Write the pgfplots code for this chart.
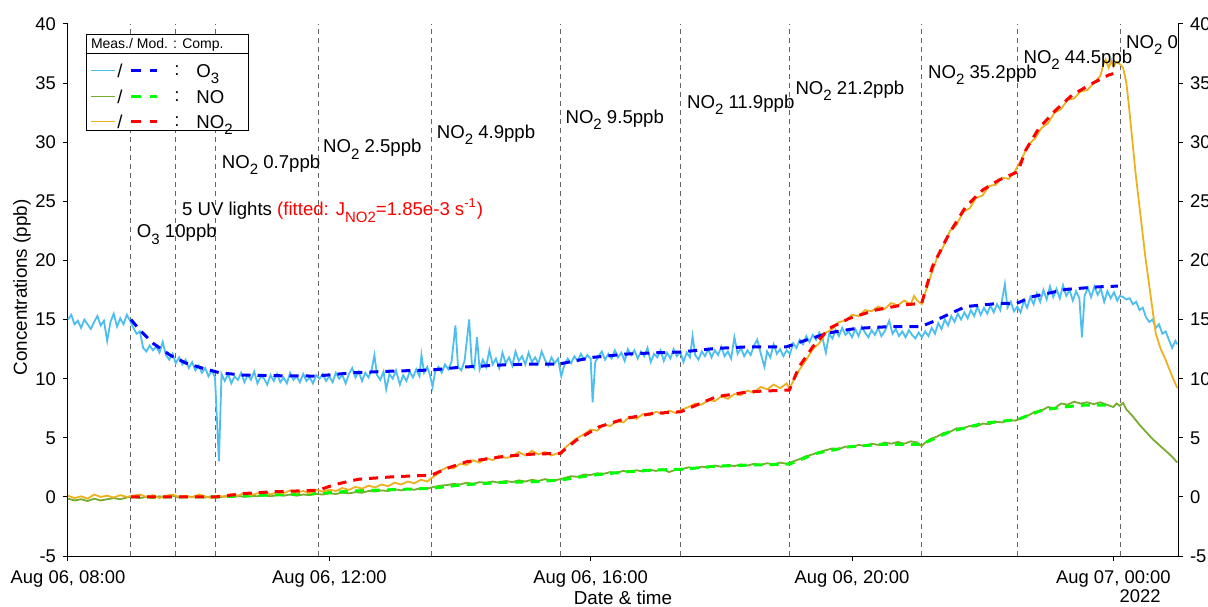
\documentclass[border=0pt]{standalone}
\usepackage{fontspec}
\setmainfont{Liberation Sans}
\usepackage{pgfplots}
\pgfplotsset{compat=1.18}
\definecolor{o3m}{RGB}{77,190,238}
\definecolor{nom}{RGB}{119,172,48}
\definecolor{no2m}{RGB}{237,177,32}
\definecolor{vl}{RGB}{100,100,100}
\newcommand{\sub}[1]{\raisebox{-3.2pt}{\fontsize{7.5}{8}\selectfont #1}}
\newcommand{\ann}{\fontsize{9.3}{11}\selectfont}
\begin{document}
\begin{tikzpicture}
\begin{axis}[name=ax, scale only axis, width=555pt, height=266pt,
  xmin=0, xmax=16.99, ymin=-5, ymax=40,
  axis x line*=bottom, axis y line*=left,
  axis line style={-, line width=0.5pt},
  tick align=outside, major tick length=2.5pt,
  tick style={black, line width=0.5pt},
  xtick={0,4,8,12,16},
  xticklabels={{Aug 06, 08:00},{Aug 06, 12:00},{Aug 06, 16:00},{Aug 06, 20:00},{Aug 07, 00:00}},
  xticklabel style={yshift=-1.5pt},
  ytick={-5,0,5,10,15,20,25,30,35,40},
  tick label style={font=\fontsize{9.2}{11}\selectfont},
  /pgf/number format/assume math mode=true,
  xlabel={Date \& time}, ylabel={Concentrations (ppb)},
  label style={font=\fontsize{9.4}{11}\selectfont},
  xlabel style={at={(axis description cs:0.5,-0.078)}, anchor=center},
  ylabel style={at={(axis description cs:-0.0414,0.505)}, anchor=center},
  clip=false,
  vline/.style={vl, line width=0.5pt, dash pattern=on 2.5pt off 2pt},
]
\pgfplotsinvokeforeach{0.964,1.653,2.265,3.831,5.567,7.531,9.379,11.041,13.066,14.537,16.104}{
  \addplot[vline] coordinates {(#1,-5) (#1,40)};
}
% O3 measured
\addplot[o3m, line width=0.9pt] coordinates {
(0.00,15.0)(0.05,15.4)(0.10,14.6)(0.15,14.9)(0.20,14.3)(0.25,15.0)(0.30,14.6)(0.35,14.2)(0.40,14.8)(0.45,15.3)
(0.50,14.5)(0.55,14.9)(0.60,13.2)(0.65,14.8)(0.70,15.5)(0.75,14.4)(0.80,15.1)(0.85,14.6)(0.90,15.4)(0.95,14.9)
(1.00,14.3)(1.05,13.8)(1.10,14.0)(1.15,12.6)(1.20,12.3)(1.25,12.8)(1.30,12.4)(1.35,12.7)(1.40,12.2)(1.45,13.1)
(1.50,12.0)(1.55,11.6)(1.60,12.1)(1.65,11.3)(1.70,11.8)(1.75,11.2)(1.80,11.6)(1.85,10.9)(1.90,11.4)(1.95,10.7)
(2.00,11.1)(2.05,10.5)(2.10,10.9)(2.15,10.2)(2.20,10.7)(2.25,10.1)(2.31,3.0)(2.35,10.4)
(2.40,9.8)(2.45,10.4)(2.50,9.6)(2.55,10.2)(2.60,9.9)(2.65,10.5)(2.70,9.7)(2.75,10.3)(2.80,9.9)(2.85,10.6)
(2.90,9.6)(2.95,10.2)(3.00,10.0)(3.05,9.5)(3.10,10.3)(3.15,9.8)(3.20,10.4)(3.25,9.7)(3.30,10.1)(3.35,9.6)
(3.40,10.5)(3.45,9.9)(3.50,10.2)(3.55,9.7)(3.60,10.4)(3.65,9.8)(3.70,10.1)(3.75,9.6)(3.80,10.3)(3.85,10.0)
(3.90,10.4)(3.95,9.8)(4.00,10.2)(4.05,9.7)(4.10,10.5)(4.15,10.0)(4.20,10.3)(4.25,9.6)(4.30,10.4)(4.35,10.9)
(4.40,10.1)(4.45,10.6)(4.50,9.8)(4.55,10.5)(4.60,10.1)(4.65,10.8)(4.69,12.0)(4.73,10.3)(4.78,9.9)(4.83,10.6)
(4.87,9.1)(4.92,10.4)(4.97,10.0)(5.02,10.7)(5.08,9.5)(5.13,10.3)(5.18,9.8)(5.23,10.6)(5.28,10.1)(5.33,10.8)
(5.38,10.2)(5.41,12.0)(5.45,10.5)(5.50,11.0)(5.54,10.3)(5.58,9.3)(5.62,10.6)(5.67,11.0)(5.72,10.5)(5.77,11.2)
(5.82,10.8)(5.87,11.4)(5.93,14.5)(5.97,11.0)(6.02,10.7)(6.07,11.5)(6.14,15.0)(6.18,11.3)(6.22,10.9)(6.26,13.5)
(6.30,10.8)(6.35,11.6)(6.40,11.0)(6.45,12.4)(6.50,11.2)(6.55,11.7)(6.60,10.9)(6.65,12.2)(6.70,11.3)(6.75,11.8)
(6.80,11.1)(6.85,12.3)(6.90,11.5)(6.95,11.9)(7.00,11.2)(7.05,12.2)(7.10,11.4)(7.15,11.8)(7.20,11.3)(7.25,12.3)
(7.30,11.6)(7.35,11.1)(7.40,11.8)(7.45,11.3)(7.50,11.7)(7.55,10.2)(7.60,11.2)(7.65,11.7)(7.70,11.3)(7.75,11.9)
(7.80,11.5)(7.85,12.1)(7.90,11.6)(7.95,12.0)(8.00,11.7)(8.03,8.0)(8.07,11.4)(8.12,11.9)(8.17,12.3)(8.22,11.6)
(8.27,12.1)(8.32,11.7)(8.37,12.4)(8.42,11.8)(8.47,12.2)(8.52,11.5)(8.57,12.5)(8.62,12.0)(8.67,12.4)(8.72,11.7)
(8.77,12.3)(8.82,11.9)(8.87,12.6)(8.92,11.4)(8.97,12.1)(9.02,11.8)(9.07,12.4)(9.12,11.5)(9.17,12.2)(9.22,11.7)
(9.27,12.5)(9.32,11.9)(9.37,12.3)(9.42,11.4)(9.47,12.2)(9.52,11.8)(9.56,13.6)(9.60,12.0)(9.65,11.6)(9.70,12.3)
(9.75,11.9)(9.80,12.5)(9.85,11.8)(9.90,12.4)(9.95,12.0)(10.00,12.7)(10.05,11.9)(10.10,12.3)(10.15,11.7)(10.20,13.5)
(10.25,12.1)(10.30,12.6)(10.35,11.9)(10.40,12.4)(10.45,12.0)(10.50,12.8)(10.55,13.3)(10.60,12.2)(10.66,11.0)(10.70,12.3)
(10.75,11.8)(10.80,12.9)(10.85,12.1)(10.90,12.5)(10.95,11.9)(11.00,12.4)(11.05,12.1)(11.10,13.0)(11.15,12.6)(11.20,13.3)
(11.25,12.9)(11.30,13.6)(11.35,13.1)(11.40,13.7)(11.45,13.3)(11.50,13.9)(11.55,13.4)(11.60,12.2)(11.65,13.8)(11.70,13.4)
(11.75,14.1)(11.80,13.6)(11.85,14.3)(11.90,13.7)(11.95,14.0)(12.00,13.5)(12.05,14.2)(12.10,13.6)(12.15,14.4)(12.20,13.9)
(12.25,13.5)(12.30,14.1)(12.35,13.7)(12.40,14.3)(12.45,13.6)(12.50,14.0)(12.57,14.9)(12.62,13.8)(12.67,14.2)(12.72,13.6)
(12.77,14.0)(12.82,13.5)(12.87,14.1)(12.92,13.7)(12.97,13.4)(13.02,13.9)(13.07,13.5)(13.12,14.0)(13.17,13.6)(13.22,14.3)
(13.27,13.8)(13.32,14.7)(13.37,14.2)(13.42,15.0)(13.47,14.5)(13.52,15.3)(13.57,14.8)(13.62,15.5)(13.67,15.0)(13.72,15.6)
(13.77,15.1)(13.82,15.8)(13.87,15.3)(13.92,16.1)(13.97,15.4)(14.02,16.0)(14.07,15.5)(14.12,16.2)(14.17,15.6)(14.22,16.3)
(14.27,15.8)(14.34,18.0)(14.38,16.0)(14.43,16.5)(14.48,15.7)(14.53,16.1)(14.58,15.6)(14.63,16.6)(14.68,16.0)(14.73,16.9)
(14.78,16.3)(14.83,17.2)(14.88,16.5)(14.93,17.5)(14.98,16.7)(15.03,17.8)(15.08,16.9)(15.13,17.6)(15.18,16.8)(15.23,17.9)
(15.28,17.0)(15.33,17.5)(15.38,16.6)(15.43,17.4)(15.48,16.8)(15.52,13.5)(15.56,17.0)(15.61,17.7)(15.66,16.9)(15.71,17.8)
(15.76,17.1)(15.81,17.6)(15.86,16.5)(15.91,17.4)(15.96,16.8)(16.01,17.3)(16.06,16.6)(16.10,17.0)(16.15,16.9)(16.20,16.7)
(16.25,16.8)(16.30,16.3)(16.35,16.5)(16.40,15.8)(16.45,16.0)(16.50,15.2)(16.55,14.8)(16.60,15.0)(16.65,14.3)(16.70,14.6)
(16.75,13.8)(16.80,14.0)(16.85,13.3)(16.90,12.6)(16.95,13.2)(16.98,12.9)
};
% O3 model
\addplot[blue, line width=1.5pt, dash pattern=on 4.5pt off 3.5pt] coordinates {
(0.964,15.0)(1.1,14.1)(1.3,13.0)(1.56,12.0)(1.81,11.3)(2.07,10.87)(2.32,10.5)(2.68,10.3)(3.19,10.25)(3.8,10.22)
(4.36,10.5)(4.97,10.64)(5.56,10.73)(5.99,10.96)(6.6,11.15)(7.11,11.24)(7.52,11.24)(8.03,11.8)(8.54,12.08)(9.05,12.2)
(9.37,12.25)(9.92,12.56)(10.43,12.7)(11.0,12.7)(11.3,13.27)(11.65,13.88)(12.06,14.25)(12.57,14.4)(13.05,14.4)
(13.23,14.8)(13.49,15.47)(13.74,16.1)(14.25,16.37)(14.52,16.37)(14.76,16.93)(15.27,17.55)(15.78,17.77)(16.07,17.83)
};
% NO measured
\addplot[nom, line width=0.9pt] coordinates {
(0.0,-0.15)(0.1,-0.3)(0.2,-0.2)(0.3,-0.35)(0.4,-0.15)(0.5,-0.3)(0.6,-0.2)(0.7,-0.1)(0.8,-0.2)(0.9,-0.05)
(1.0,0.05)(1.1,-0.1)(1.2,0.0)(1.3,-0.1)(1.4,0.05)(1.5,-0.05)(1.6,0.1)(1.7,-0.05)(1.8,0.05)(1.9,0.0)
(2.0,0.1)(2.1,-0.05)(2.2,0.05)(2.3,-0.05)(2.4,0.05)(2.5,0.0)(2.6,0.1)(2.7,0.0)(2.8,0.1)(2.9,0.05)
(3.0,0.15)(3.1,0.05)(3.2,0.15)(3.3,0.1)(3.4,0.2)(3.5,0.1)(3.6,0.2)(3.7,0.15)(3.8,0.25)(3.9,0.2)
(4.0,0.3)(4.1,0.25)(4.2,0.35)(4.3,0.3)(4.4,0.4)(4.5,0.35)(4.6,0.5)(4.7,0.45)(4.8,0.55)(4.9,0.5)
(5.0,0.65)(5.1,0.55)(5.2,0.7)(5.3,0.6)(5.4,0.75)(5.5,0.7)(5.6,0.85)(5.7,0.95)(5.8,1.0)(5.9,1.1)
(6.0,1.05)(6.1,1.2)(6.2,1.1)(6.3,1.25)(6.4,1.2)(6.5,1.3)(6.6,1.2)(6.7,1.35)(6.8,1.25)(6.9,1.4)
(7.0,1.3)(7.1,1.45)(7.2,1.35)(7.3,1.5)(7.4,1.4)(7.5,1.45)(7.6,1.6)(7.7,1.75)(7.8,1.7)(7.9,1.9)
(8.0,1.85)(8.1,2.0)(8.2,1.95)(8.3,2.1)(8.4,2.05)(8.5,2.2)(8.6,2.1)(8.7,2.25)(8.8,2.15)(8.9,2.3)
(9.0,2.2)(9.1,2.35)(9.2,2.1)(9.3,2.3)(9.4,2.35)(9.5,2.5)(9.6,2.4)(9.7,2.55)(9.8,2.5)(9.9,2.65)
(10.0,2.55)(10.1,2.7)(10.2,2.6)(10.3,2.75)(10.4,2.65)(10.5,2.8)(10.6,2.7)(10.7,2.85)(10.8,2.75)(10.9,2.9)
(11.0,2.8)(11.1,3.0)(11.2,3.2)(11.3,3.45)(11.4,3.6)(11.5,3.8)(11.6,3.95)(11.7,4.1)(11.8,4.05)(11.9,4.25)
(12.0,4.2)(12.1,4.4)(12.2,4.3)(12.3,4.5)(12.4,4.4)(12.5,4.6)(12.6,4.5)(12.7,4.65)(12.8,4.5)(12.9,4.7)
(13.0,4.6)(13.066,4.3)(13.1,4.5)(13.2,4.9)(13.3,5.1)(13.4,5.4)(13.5,5.5)(13.6,5.8)(13.7,5.8)(13.8,6.0)
(13.9,5.95)(14.0,6.2)(14.1,6.15)(14.2,6.35)(14.3,6.3)(14.4,6.5)(14.5,6.45)(14.6,6.7)(14.7,6.9)(14.8,7.2)
(14.9,7.3)(15.0,7.6)(15.1,7.5)(15.2,7.9)(15.3,7.8)(15.4,8.05)(15.5,7.9)(15.6,8.0)(15.7,7.85)(15.8,8.0)
(15.9,7.8)(16.0,7.6)(16.05,7.9)(16.1,7.7)(16.15,7.95)(16.2,7.4)(16.3,6.8)(16.4,6.1)(16.5,5.5)(16.6,4.9)
(16.7,4.4)(16.8,3.9)(16.9,3.4)(16.98,2.9)
};
% NO model
\addplot[green, line width=1.5pt, dash pattern=on 4.5pt off 3.5pt] coordinates {
(0.964,0.0)(2.265,0.0)(3.831,0.3)(4.36,0.5)(5.56,0.72)(6.0,1.0)(6.6,1.22)(7.12,1.28)(7.531,1.42)(8.03,1.84)
(8.54,2.12)(8.95,2.27)(9.379,2.33)(9.92,2.6)(10.43,2.69)(11.041,2.77)(11.45,3.68)(11.96,4.24)(12.47,4.45)
(13.066,4.45)(13.49,5.5)(14.0,6.22)(14.537,6.55)(14.91,7.34)(15.27,7.62)(15.57,7.77)(15.98,7.77)
};
% NO2 measured
\addplot[no2m, line width=0.9pt] coordinates {
(0.0,0.1)(0.1,-0.1)(0.2,0.05)(0.3,-0.15)(0.4,0.2)(0.5,0.0)(0.6,0.1)(0.7,-0.05)(0.8,0.15)(0.9,0.0)
(1.0,0.1)(1.1,0.2)(1.2,0.0)(1.3,0.15)(1.4,-0.1)(1.5,0.1)(1.6,0.2)(1.7,0.0)(1.8,0.1)(1.9,-0.05)
(2.0,0.2)(2.1,0.05)(2.2,-0.1)(2.3,0.1)(2.4,0.0)(2.5,0.25)(2.6,0.1)(2.7,0.35)(2.8,0.15)(2.9,0.3)
(3.0,0.45)(3.1,0.2)(3.2,0.4)(3.3,0.3)(3.4,0.55)(3.5,0.35)(3.6,0.5)(3.7,0.3)(3.8,0.6)(3.9,0.45)
(4.0,0.6)(4.1,0.5)(4.2,0.75)(4.3,0.6)(4.4,0.85)(4.5,0.7)(4.6,0.95)(4.7,0.8)(4.8,1.05)(4.9,0.9)
(5.0,1.2)(5.1,1.05)(5.2,1.3)(5.3,1.15)(5.4,1.45)(5.5,1.3)(5.567,1.6)(5.65,1.9)(5.7,2.2)(5.8,2.5)
(5.9,2.4)(6.0,2.8)(6.1,2.7)(6.2,3.1)(6.3,2.9)(6.4,3.3)(6.5,3.1)(6.6,3.5)(6.7,3.3)(6.8,3.4)
(6.9,3.8)(7.0,3.5)(7.1,3.9)(7.2,3.6)(7.3,3.8)(7.4,3.5)(7.5,3.7)(7.55,3.6)(7.6,4.1)(7.7,4.6)
(7.8,5.0)(7.9,5.3)(8.0,5.7)(8.1,5.6)(8.2,6.1)(8.3,6.0)(8.4,6.4)(8.5,6.3)(8.6,6.8)(8.7,6.6)
(8.8,7.0)(8.9,6.9)(9.0,7.2)(9.1,7.0)(9.2,7.3)(9.3,7.1)(9.4,7.4)(9.5,7.6)(9.6,7.9)(9.7,7.8)
(9.8,8.2)(9.9,8.1)(10.0,8.5)(10.1,8.3)(10.2,8.7)(10.3,8.6)(10.4,9.0)(10.5,8.8)(10.6,9.3)(10.7,9.1)
(10.8,9.5)(10.9,9.2)(11.0,9.6)(11.041,9.1)(11.1,9.8)(11.2,10.8)(11.3,11.6)(11.4,12.5)(11.5,13.0)(11.6,13.9)
(11.7,14.2)(11.8,14.8)(11.9,14.9)(12.0,15.4)(12.1,15.3)(12.2,15.8)(12.3,15.7)(12.4,16.1)(12.5,15.9)(12.6,16.4)
(12.7,16.2)(12.8,16.6)(12.9,16.3)(12.95,17.0)(13.0,16.6)(13.066,16.3)(13.1,16.9)(13.2,18.6)(13.3,20.2)(13.4,21.2)
(13.5,22.5)(13.6,23.0)(13.7,24.1)(13.8,24.4)(13.9,25.3)(14.0,25.5)(14.1,26.3)(14.2,26.4)(14.3,27.0)(14.4,26.9)
(14.5,27.6)(14.537,28.0)(14.6,28.6)(14.7,29.8)(14.8,30.3)(14.9,31.2)(15.0,31.6)(15.1,32.5)(15.2,32.8)(15.3,33.6)
(15.4,33.7)(15.5,34.3)(15.6,34.4)(15.7,35.0)(15.8,35.6)(15.85,36.6)(15.88,37.0)(15.93,36.3)(15.97,36.9)(16.0,36.4)
(16.05,36.8)(16.1,36.6)(16.15,36.3)(16.2,35.0)(16.24,33.0)(16.34,27.4)(16.49,20.3)(16.65,13.8)(16.72,12.6)(16.8,11.6)
(16.9,10.2)(16.98,9.2)
};
% NO2 model
\addplot[red, line width=1.5pt, dash pattern=on 4.5pt off 3.5pt] coordinates {
(0.964,0.0)(2.265,0.0)(2.73,0.3)(3.14,0.43)(3.75,0.55)(3.831,0.56)(4.06,1.0)(4.31,1.34)(4.46,1.5)(4.97,1.7)
(5.567,1.84)(5.79,2.4)(6.1,2.97)(6.4,3.2)(6.71,3.45)(7.12,3.62)(7.531,3.68)(7.78,4.8)(8.13,5.93)(8.54,6.64)
(8.95,7.06)(9.379,7.2)(9.92,8.47)(10.43,8.9)(11.041,9.04)(11.19,11.0)(11.4,12.7)(11.65,14.25)(11.96,15.1)
(12.36,15.8)(12.77,16.23)(13.066,16.37)(13.23,19.47)(13.49,22.3)(13.74,24.54)(14.0,25.96)(14.25,26.8)
(14.537,27.5)(14.66,29.34)(14.86,31.18)(15.12,32.72)(15.37,33.99)(15.68,34.98)(15.93,35.69)(16.0,35.8)
};
% annotations
\node[anchor=base west, inner sep=0, font=\ann] at (axis cs:1.05,21.93) {O\sub{3} 10ppb};
\node[anchor=base west, inner sep=0, font=\ann] at (axis cs:1.74,23.79) {5 UV lights \textcolor{red}{(fitted: J\sub{NO2}=1.85e-3 s\textsuperscript{-1})}};
\node[anchor=base west, inner sep=0, font=\ann] at (axis cs:2.35,27.79) {NO\sub{2} 0.7ppb};
\node[anchor=base west, inner sep=0, font=\ann] at (axis cs:3.90,29.12) {NO\sub{2} 2.5ppb};
\node[anchor=base west, inner sep=0, font=\ann] at (axis cs:5.64,30.34) {NO\sub{2} 4.9ppb};
\node[anchor=base west, inner sep=0, font=\ann] at (axis cs:7.61,31.60) {NO\sub{2} 9.5ppb};
\node[anchor=base west, inner sep=0, font=\ann] at (axis cs:9.47,32.87) {NO\sub{2} 11.9ppb};
\node[anchor=base west, inner sep=0, font=\ann] at (axis cs:11.13,34.07) {NO\sub{2} 21.2ppb};
\node[anchor=base west, inner sep=0, font=\ann] at (axis cs:13.16,35.41) {NO\sub{2} 35.2ppb};
\node[anchor=base west, inner sep=0, font=\ann] at (axis cs:14.62,36.67) {NO\sub{2} 44.5ppb};
\node[anchor=base west, inner sep=0, font=\ann] at (axis cs:16.19,37.94) {NO\sub{2} 0};
\node[anchor=center, inner sep=0, font=\fontsize{9.2}{11}\selectfont] at (axis cs:16.41,-8.42) {2022};
\end{axis}
\begin{axis}[scale only axis, width=555pt, height=266pt,
  xmin=0, xmax=16.99, ymin=-5, ymax=40,
  axis x line=none, axis y line*=right,
  axis line style={-, line width=0.5pt},
  tick align=outside, major tick length=2.5pt,
  tick style={black, line width=0.5pt},
  ytick={-5,0,5,10,15,20,25,30,35,40},
  tick label style={font=\fontsize{9.2}{11}\selectfont},
  /pgf/number format/assume math mode=true,
]
\addplot[draw=none] coordinates {(0,0)};
\end{axis}
\begin{scope}[shift={(ax.north west)}, x=1pt, y=1pt]
\draw[line width=0.5pt, fill=white] (9,-5.5) rectangle (90,-53.5);
\draw[line width=0.5pt] (9,-15) -- (90,-15);
\node[anchor=west, inner sep=0, font=\fontsize{7}{8}\selectfont] at (11.3,-10.3) {Meas./ Mod. : Comp.};
\foreach \yy/\cm/\cd/\lab in {-23.3/o3m/blue/O\sub{3}, -36.3/nom/green/NO, -48.8/no2m/red/NO\sub{2}}{
  \draw[\cm, line width=0.9pt] (11.5,\yy) -- (23.5,\yy);
  \node[inner sep=0, font=\ann] at (26,\yy) {/};
  \draw[\cd, line width=1.5pt, dash pattern=on 5pt off 4.5pt] (31.5,\yy) -- (44.5,\yy);
  \node[inner sep=0, font=\ann] at (54.5,\yy) {:};
  \node[anchor=base west, inner sep=0, font=\ann] at (64,\yy-3.35) {\lab};
}
\end{scope}
\pgfresetboundingbox
\path[use as bounding box] ([shift={(-34pt,-25pt)}]ax.south west) rectangle ([shift={(15pt,12pt)}]ax.north east);
\end{tikzpicture}
\end{document}
